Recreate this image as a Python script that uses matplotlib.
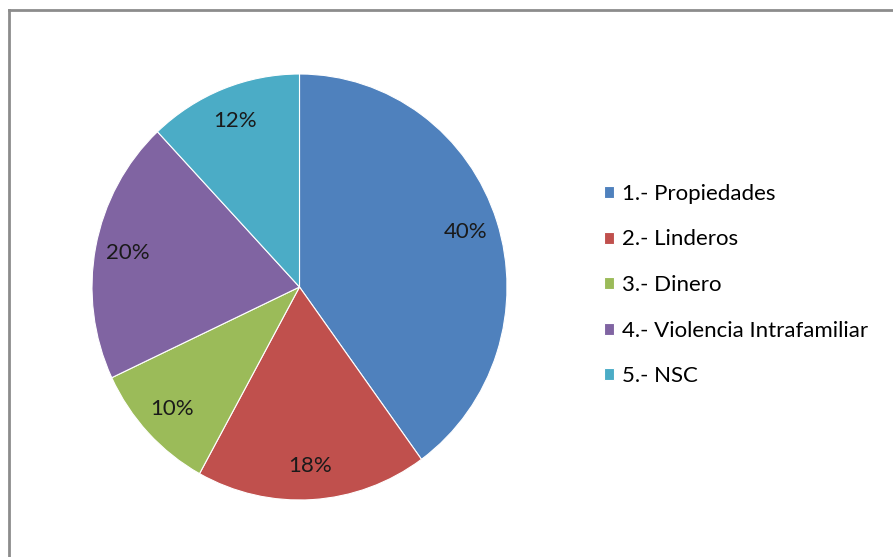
import matplotlib
matplotlib.use("Agg")
import matplotlib.pyplot as plt
from matplotlib.lines import Line2D

labels = ['1.- Propiedades', '2.- Linderos', '3.- Dinero',
          '4.- Violencia Intrafamiliar', '5.- NSC']
values = [40, 18, 10, 20, 12]
colors = ['#4F81BD', '#C0504D', '#9BBB59', '#8064A2', '#4BACC6']

plt.rcParams['font.family'] = ['Lato', 'DejaVu Sans']

fig = plt.figure(figsize=(8.93, 5.57), dpi=100)
W, H = 893, 557

# pie axes: center (299.5, 287), slightly taller than wide like the reference
rx, ry = 207.5, 213
ax = fig.add_axes([(299.5 - rx) / W, (H - 287 - ry) / H, 2 * rx / W, 2 * ry / H])
wedges, texts, autotexts = ax.pie(values, colors=colors, startangle=90, counterclock=False,
                                  autopct='%1.0f%%', pctdistance=0.84,
                                  wedgeprops=dict(edgecolor='white', linewidth=0.8),
                                  textprops=dict(fontsize=16, color='#1a1a1a'))
ax.set_xlim(-1, 1)
ax.set_ylim(-1, 1)
ax.set_aspect('auto')

fig.legend(wedges, labels, loc='center left', bbox_to_anchor=(604 / W, 1 - 285 / H),
           frameon=False, fontsize=16, handlelength=0.45, handleheight=0.45,
           handletextpad=0.36, labelspacing=1.15, borderpad=0, borderaxespad=0)

# chart frame (left and top edges visible)
fig.add_artist(Line2D([9 / W, 9 / W], [0, 1 - 10 / H], transform=fig.transFigure,
                      color='#8c8c8c', linewidth=2))
fig.add_artist(Line2D([9 / W, 1], [1 - 10 / H, 1 - 10 / H], transform=fig.transFigure,
                      color='#8c8c8c', linewidth=2))

fig.savefig('out.png', dpi=100)
